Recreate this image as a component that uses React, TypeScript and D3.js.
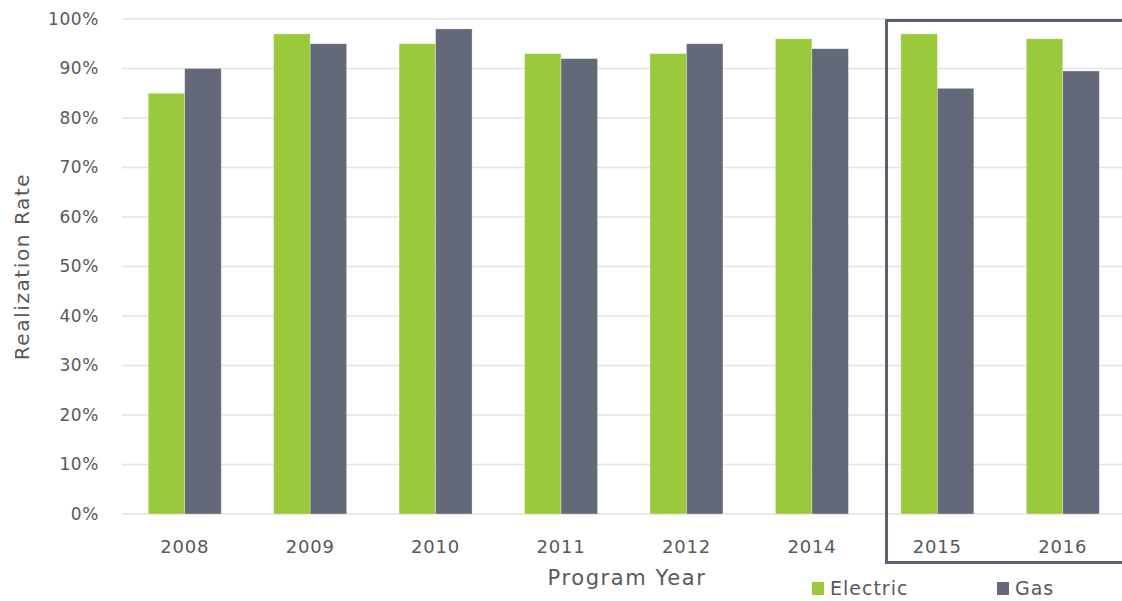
import React from "react";
import * as d3 from "d3";

const years = ["2008", "2009", "2010", "2011", "2012", "2014", "2015", "2016"];
const electric = [85, 97, 95, 93, 93, 96, 97, 96];
const gas = [90, 95, 98, 92, 95, 94, 86, 89.5];
const yTicks = [0, 10, 20, 30, 40, 50, 60, 70, 80, 90, 100];
const seriesNames = ["Electric", "Gas"];
const colors = ["#9aca3c", "#636978"];

const W = 1122;
const H = 601;
const FONT = "'DejaVu Sans', sans-serif";
const TEXT = "#595959";

export default function App() {
  const x = d3.scaleBand<string>().domain(years).range([122, 1125.5]).paddingInner(0).paddingOuter(0);
  const y = d3.scaleLinear().domain([0, 100]).range([514, 19]);
  const step = x.step();
  const barW = 36.5;
  const series = [electric, gas];

  return (
    <svg width={W} height={H} style={{ position: "absolute", left: 0, top: 0, background: "#fff" }}>
      {yTicks.map((t) => (
        <g key={t}>
          <line x1={122} x2={W} y1={y(t)} y2={y(t)} stroke="#e2e2e8" strokeWidth={1.6} />
          <text x={99} y={y(t)} dy="0.35em" textAnchor="end" fontFamily={FONT} fontSize={17} fill={TEXT} letterSpacing={0.6}>
            {t}%
          </text>
        </g>
      ))}
      {years.map((yr, i) => {
        const cx = (x(yr) as number) + step / 2;
        return (
          <g key={yr}>
            {series.map((s, k) => (
              <rect
                key={k}
                x={cx - barW + k * barW}
                y={y(s[i])}
                width={barW}
                height={y(0) - y(s[i])}
                fill={colors[k]}
                stroke="#ffffff"
                strokeOpacity={0.5}
                strokeWidth={0.6}
              />
            ))}
            <text x={cx} y={547} dy="0.35em" textAnchor="middle" fontFamily={FONT} fontSize={18} fill={TEXT} letterSpacing={0.8}>
              {yr}
            </text>
          </g>
        );
      })}
      <text x={627} y={578} dy="0.35em" textAnchor="middle" fontFamily={FONT} fontSize={21} fill={TEXT} letterSpacing={1.6}>
        Program Year
      </text>
      <text
        transform={`translate(22,${y(50)}) rotate(-90)`}
        dy="0.35em"
        textAnchor="middle"
        fontFamily={FONT}
        fontSize={20}
        fill={TEXT}
        letterSpacing={1.6}
      >
        Realization Rate
      </text>
      <path d={`M${W + 5},20.5 H886.5 V562.5 H${W + 5}`} fill="none" stroke="#5a6270" strokeWidth={3} />
      {seriesNames.map((n, k) => {
        const lx = [812, 997][k];
        return (
          <g key={n}>
            <rect x={lx} y={582} width={12} height={13} fill={colors[k]} />
            <text x={lx + 18} y={588.5} dy="0.35em" fontFamily={FONT} fontSize={19} fill={TEXT} letterSpacing={1}>
              {n}
            </text>
          </g>
        );
      })}
    </svg>
  );
}
